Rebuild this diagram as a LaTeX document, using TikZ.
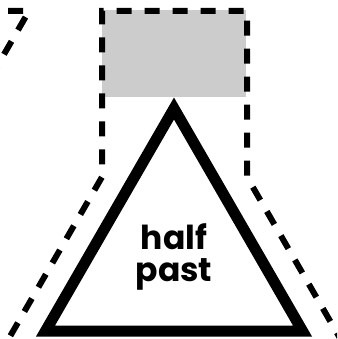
\documentclass[tikz,border=0pt]{standalone}
\usepackage{fontspec}
\setmainfont{Poppins}
\usepackage{tikz}
\usetikzlibrary{arrows.meta}
\usepackage{xcolor}
\definecolor{boxgray}{HTML}{CCCCCC}

\begin{document}
\begin{tikzpicture}[x=1pt,y=-1pt,line join=miter,
  outline/.style={line width=6pt,dash pattern=on 15pt off 13pt},
  clockface/.style={line width=11pt},
  word/.style={font=\bfseries\fontsize{33}{29}\selectfont,inner sep=0pt,anchor=base}]
\useasboundingbox (0,0) rectangle (337,339);
\begin{scope}
\clip (0,0) rectangle (337,339);
\fill[boxgray] (102,10) rectangle (246,97);
\draw[outline] (-3.6,360) -- (102,177) -- (102,11) -- (247,11) -- (247,177) -- (352.6,360);
\draw[outline] (-20,11) -- (29,11) -- (-10.8,80);
\draw[clockface] (174,108.5) -- (302.5,331) -- (45.5,331) -- cycle;
\end{scope}
\node[word,text height=24pt,text depth=0pt] (half) at (174,249) {half};
\node[word,text height=20pt,text depth=7pt] (past) at (174,281) {past};
\end{tikzpicture}
\end{document}
